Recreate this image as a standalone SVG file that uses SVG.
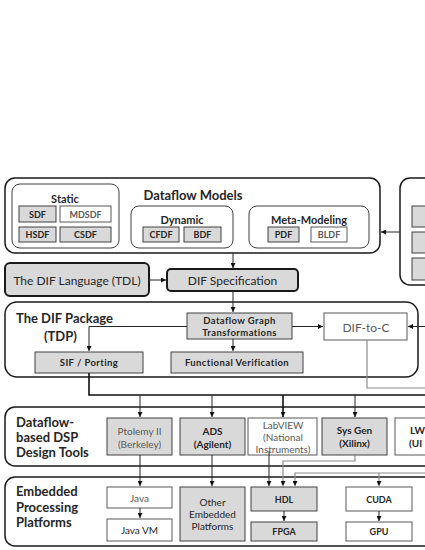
<svg xmlns="http://www.w3.org/2000/svg" width="425" height="550" viewBox="0 0 425 550">
<style>
text{font-family:Lato,"Open Sans","Liberation Sans",sans-serif;fill:#262626;text-anchor:middle;dominant-baseline:central}
.b{font-weight:bold}
.lt{fill:#595959;font-weight:normal}
.panel{fill:#fff;stroke:#1a1a1a;stroke-width:1.5}
.sub{fill:#fff;stroke:#404040;stroke-width:1}
.g{fill:#d9d9d9;stroke:#404040;stroke-width:1}
.w{fill:#fff;stroke:#595959;stroke-width:1}
.gk{fill:#d9d9d9;stroke:#1a1a1a;stroke-width:2}
.h{font-size:13px;font-weight:bold;text-anchor:start}
.s{font-size:9px;font-weight:bold}
.s2{font-size:9.5px;font-weight:bold;letter-spacing:0.4px}
.m{font-size:10px}
.c{fill:none;stroke:#262626;stroke-width:1}
.ck{fill:none;stroke:#111;stroke-width:1.6}
.cg{fill:none;stroke:#8c8c8c;stroke-width:1.2}
</style>
<defs>
<marker id="ah" viewBox="0 0 6 6" refX="6" refY="3" markerWidth="5" markerHeight="5" markerUnits="userSpaceOnUse" orient="auto"><path d="M0,0 L6,3 L0,6 Z" fill="#111"/></marker>
</defs>
<rect width="425" height="550" fill="#fff"/>

<g id="dataflow-models">
<rect class="panel" x="5" y="178" width="375" height="75" rx="10"/>
<text class="b" x="193" y="195" font-size="13">Dataflow Models</text>
</g>
<g id="static">
<rect class="sub" x="12" y="184" width="107" height="64" rx="8"/>
<text class="b" x="65" y="198" font-size="11">Static</text>
</g>
<g id="sdf"><rect class="g" x="19" y="206" width="37" height="16"/><text class="s" x="37.5" y="214">SDF</text></g>
<g id="mdsdf"><rect class="w" x="60" y="206" width="51" height="16"/><text class="s lt" x="85.5" y="214">MDSDF</text></g>
<g id="hsdf"><rect class="g" x="19" y="227" width="37" height="15"/><text class="s" x="37.5" y="234.5">HSDF</text></g>
<g id="csdf"><rect class="g" x="60" y="227" width="51" height="15"/><text class="s" x="85.5" y="234.5">CSDF</text></g>
<g id="dynamic">
<rect class="sub" x="131" y="206" width="102" height="42" rx="8"/>
<text class="b" x="182" y="219" font-size="11">Dynamic</text>
</g>
<g id="cfdf"><rect class="g" x="143" y="227" width="36" height="15"/><text class="s" x="161" y="234.5">CFDF</text></g>
<g id="bdf"><rect class="g" x="184" y="227" width="37" height="15"/><text class="s" x="202.5" y="234.5">BDF</text></g>
<g id="meta-modeling">
<rect class="sub" x="249" y="206" width="120" height="42" rx="8"/>
<text class="b" x="309" y="219" font-size="11">Meta-Modeling</text>
</g>
<g id="pdf"><rect class="g" x="268" y="227" width="31" height="15"/><text class="s" x="283.5" y="234.5">PDF</text></g>
<g id="bldf"><rect class="w" x="311" y="227" width="36" height="15"/><text class="s lt" x="329" y="234.5">BLDF</text></g>

<g id="right-panel">
<rect class="panel" x="400" y="178" width="40" height="107" rx="10"/>
<rect class="g" x="412" y="206" width="20" height="21"/>
<rect class="g" x="412" y="232" width="20" height="21"/>
<rect class="g" x="412" y="258" width="20" height="22"/>
</g>

<g id="tdl"><rect class="gk" x="5" y="263" width="144" height="33" rx="5"/><text x="77" y="280" font-size="12">The DIF Language (TDL)</text></g>
<g id="dif-spec"><rect class="gk" x="167" y="269" width="131" height="22" rx="4"/><text x="232.5" y="280" font-size="12">DIF Specification</text></g>

<g id="tdp">
<rect class="panel" x="5" y="302" width="413" height="75" rx="12"/>
<text class="h" x="16" y="318">The DIF Package</text>
<text class="h" x="44" y="336">(TDP)</text>
</g>
<g id="dgt"><rect class="g" x="187" y="313" width="105" height="26"/><text class="s2" x="239.5" y="320.5">Dataflow  Graph</text><text class="s2" x="239.5" y="332.5">Transformations</text></g>
<g id="dif-to-c"><rect class="w" x="324" y="313" width="83" height="27"/><text class="lt" x="366" y="327" font-size="12">DIF-to-C</text></g>
<g id="sif"><rect class="g" x="35" y="352" width="108" height="21"/><text class="s2" x="89" y="362.5">SIF / Porting</text></g>
<g id="func-ver"><rect class="g" x="171" y="352" width="132" height="21"/><text class="s2" x="237" y="362.5">Functional Verification</text></g>

<g id="dsp-tools">
<rect class="panel" x="5" y="407" width="440" height="59" rx="10"/>
<text class="h" x="16" y="422">Dataflow-</text>
<text class="h" x="16" y="437">based DSP</text>
<text class="h" x="16" y="452">Design Tools</text>
</g>
<g id="ptolemy"><rect class="g" x="107" y="418" width="65" height="37"/><text class="m lt" x="139.5" y="431">Ptolemy II</text><text class="m lt" x="139.5" y="444">(Berkeley)</text></g>
<g id="ads"><rect class="g" x="180" y="418" width="65" height="37"/><text class="m b" x="212.5" y="431">ADS</text><text class="m b" x="212.5" y="444">(Agilent)</text></g>
<g id="labview"><rect class="w" x="248" y="418" width="69" height="37"/><text class="m lt" x="283" y="425">LabVIEW</text><text class="m lt" x="283" y="437">(National</text><text class="m lt" x="283" y="449">Instruments)</text></g>
<g id="sysgen"><rect class="g" x="322" y="418" width="65" height="37"/><text class="m b" x="354.5" y="430">Sys Gen</text><text class="m b" x="354.5" y="443">(Xilinx)</text></g>
<g id="lw"><rect class="w" x="395" y="418" width="50" height="37"/><text class="m b" x="410" y="430" style="text-anchor:start">LW</text><text class="m b" x="409" y="443" style="text-anchor:start">(UI</text></g>

<g id="platforms">
<rect class="panel" x="5" y="477" width="440" height="69" rx="10"/>
<text class="h" x="16" y="491">Embedded</text>
<text class="h" x="16" y="507">Processing</text>
<text class="h" x="16" y="522">Platforms</text>
</g>
<g id="java"><rect class="w" x="107" y="487" width="65" height="21"/><text class="m lt" x="139.5" y="498">Java</text></g>
<g id="javavm"><rect class="w" x="107" y="519" width="65" height="22"/><text class="m" x="139.5" y="530">Java VM</text></g>
<g id="other"><rect class="g" x="180" y="487" width="65" height="54"/><text class="m" x="212.5" y="502">Other</text><text class="m" x="212.5" y="514">Embedded</text><text class="m" x="212.5" y="526">Platforms</text></g>
<g id="hdl"><rect class="g" x="251" y="487" width="66" height="24"/><text class="s" x="284" y="499">HDL</text></g>
<g id="fpga"><rect class="g" x="251" y="522" width="66" height="19"/><text class="s" x="284" y="531.5">FPGA</text></g>
<g id="cuda"><rect class="w" x="346" y="487" width="66" height="24"/><text class="s" x="379" y="499">CUDA</text></g>
<g id="gpu"><rect class="w" x="346" y="522" width="66" height="19"/><text class="s" x="379" y="531.5">GPU</text></g>

<g id="connectors">
<path class="c" d="M400,232 H381" marker-end="url(#ah)"/>
<path class="c" d="M233,253 V268" marker-end="url(#ah)"/>
<path class="c" d="M149,280 H166" marker-end="url(#ah)"/>
<path class="c" d="M233,291 V312" marker-end="url(#ah)"/>
<path class="c" d="M292,326.5 H323" marker-end="url(#ah)"/>
<path class="c" d="M425,326.5 H408" marker-end="url(#ah)"/>
<path class="c" d="M187,326.5 H89 V351" marker-end="url(#ah)"/>
<path class="c" d="M233,339 V351" marker-end="url(#ah)"/>
<path class="cg" d="M367,340 V388 H425"/>
<path class="ck" d="M89,373 V395 H425"/>
<path class="c" d="M140,395 V417" marker-end="url(#ah)"/>
<path class="c" d="M212,395 V417" marker-end="url(#ah)"/>
<path class="ck" d="M283,395 V417" marker-end="url(#ah)"/>
<path class="c" d="M355,395 V417" marker-end="url(#ah)"/>
<path class="c" d="M140,455 V486" marker-end="url(#ah)"/>
<path class="c" d="M212,455 V486" marker-end="url(#ah)"/>
<path class="c" d="M269,451 V486" marker-end="url(#ah)"/>
<path class="cg" d="M355,455 V461 H283 V486" marker-end="url(#ah)"/>
<path class="cg" d="M425,473 H295 V486" marker-end="url(#ah)"/>
<path class="cg" d="M379,473 V486" marker-end="url(#ah)"/>
<path class="c" d="M140,508 V518" marker-end="url(#ah)"/>
<path class="c" d="M284,511 V521" marker-end="url(#ah)"/>
<path class="c" d="M379,511 V521" marker-end="url(#ah)"/>
</g>
</svg>
